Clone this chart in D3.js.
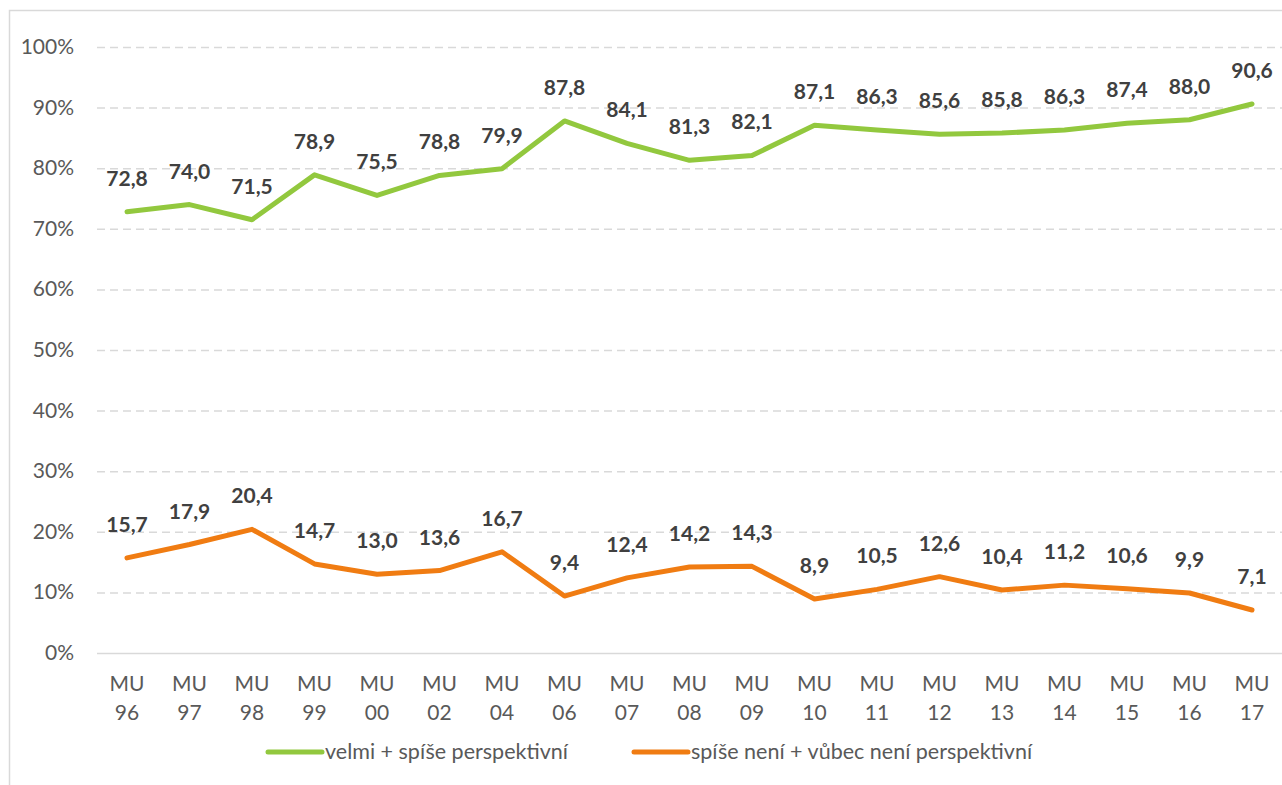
<!DOCTYPE html>
<html>
<head>
<meta charset="utf-8">
<script src="https://cdn.jsdelivr.net/npm/d3@7"></script>
<style>
  body { margin: 0; background: #fff; }
  text { font-family: Lato, "Open Sans", sans-serif; }
</style>
</head>
<body>
<script>
// Data
var categories = ['96', '97', '98', '99', '00', '02', '04', '06', '07', '08', '09', '10', '11', '12', '13', '14', '15', '16', '17'];
var greenValues = [72.8, 74.0, 71.5, 78.9, 75.5, 78.8, 79.9, 87.8, 84.1, 81.3, 82.1, 87.1, 86.3, 85.6, 85.8, 86.3, 87.4, 88.0, 90.6];
var orangeValues = [15.7, 17.9, 20.4, 14.7, 13.0, 13.6, 16.7, 9.4, 12.4, 14.2, 14.3, 8.9, 10.5, 12.6, 10.4, 11.2, 10.6, 9.9, 7.1];
var yTicks = [0, 10, 20, 30, 40, 50, 60, 70, 80, 90, 100];
var seriesNames = ['velmi + spíše perspektivní', 'spíše není + vůbec není perspektivní'];
var seriesColors = ['#92c83e', '#f07c12'];

var width = 1282, height = 785;
var svg = d3.select('body').append('svg')
    .attr('width', width)
    .attr('height', height);

// chart frame
svg.append('rect')
    .attr('x', 9.5).attr('y', 10.5)
    .attr('width', width).attr('height', height)
    .style('fill', '#fff')
    .style('stroke', '#d9d9d9')
    .style('stroke-width', 1.5);

var x = d3.scaleBand()
    .domain(categories)
    .range([95.75, 1283.25]);

var y = d3.scaleLinear()
    .domain([0, 100])
    .range([653, 47]);

// gridlines
svg.selectAll('.grid')
    .data(yTicks)
    .enter()
    .append('line')
    .attr('class', 'grid')
    .attr('x1', 97).attr('x2', 1282)
    .attr('y1', function(d){ return y(d) + 0.5; })
    .attr('y2', function(d){ return y(d) + 0.5; })
    .style('stroke', '#d9d9d9')
    .style('stroke-width', 1.5)
    .style('stroke-dasharray', function(d){ return d === 0 ? null : '8,5'; });

// y labels
svg.selectAll('.ylab')
    .data(yTicks)
    .enter()
    .append('text')
    .attr('class', 'ylab')
    .attr('x', 74)
    .attr('y', function(d){ return y(d) + 7; })
    .attr('text-anchor', 'end')
    .style('font-size', '21px')
    .style('fill', '#595959')
    .text(function(d){ return d + '%'; });

// x labels
var xl = svg.selectAll('.xlab')
    .data(categories)
    .enter()
    .append('text')
    .attr('class', 'xlab')
    .attr('text-anchor', 'middle')
    .style('font-size', '21px')
    .style('fill', '#595959');
xl.append('tspan')
    .attr('x', function(d){ return x(d) + x.bandwidth() / 2; })
    .attr('y', 691)
    .text('MU');
xl.append('tspan')
    .attr('x', function(d){ return x(d) + x.bandwidth() / 2; })
    .attr('y', 720)
    .text(function(d){ return d; });

var line = d3.line()
    .x(function(d, i){ return x(categories[i]) + x.bandwidth() / 2; })
    .y(function(d){ return y(d); });

var fmt = function(v){ return v.toFixed(1).replace('.', ','); };

[greenValues, orangeValues].forEach(function(vals, s){
    svg.append('path')
        .datum(vals)
        .attr('d', line)
        .style('fill', 'none')
        .style('stroke', seriesColors[s])
        .style('stroke-width', 5)
        .style('stroke-linejoin', 'round')
        .style('stroke-linecap', 'round');

    svg.selectAll('.lab' + s)
        .data(vals)
        .enter()
        .append('text')
        .attr('class', 'lab' + s)
        .attr('x', function(d, i){ return x(categories[i]) + x.bandwidth() / 2; })
        .attr('y', function(d){ return y(d) - 26; })
        .attr('text-anchor', 'middle')
        .style('font-size', '21px')
        .style('font-weight', 'bold')
        .style('fill', '#404040')
        .text(fmt);
});

// legend
var legendX = [268, 634];
seriesNames.forEach(function(name, s){
    svg.append('line')
        .attr('x1', legendX[s]).attr('x2', legendX[s] + 54)
        .attr('y1', 752).attr('y2', 752)
        .style('stroke', seriesColors[s])
        .style('stroke-width', 5)
        .style('stroke-linecap', 'round');
    svg.append('text')
        .attr('x', legendX[s] + 57)
        .attr('y', 759)
        .style('font-size', '21.5px')
        .style('fill', '#595959')
        .text(name);
});
</script>
</body>
</html>
